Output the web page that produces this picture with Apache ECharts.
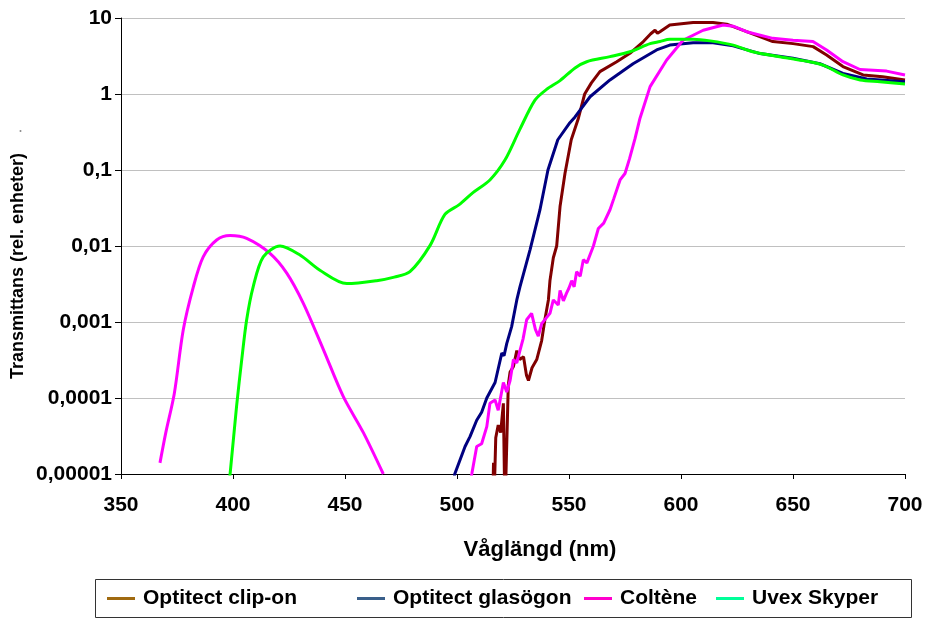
<!DOCTYPE html>
<html>
<head>
<meta charset="utf-8">
<script src="https://cdn.jsdelivr.net/npm/echarts@6/dist/echarts.min.js"></script>
<style>html,body{margin:0;padding:0;background:#fff}#c{width:925px;height:619px}</style>
</head>
<body>
<div id="c"></div>
<script>
// ---- Data ----
const seriesNames = ['Optitect clip-on', 'Optitect glasögon', 'Coltène', 'Uvex Skyper'];
const yTickLabels = ['0,00001', '0,0001', '0,001', '0,01', '0,1', '1', '10'];
const xTitle = 'Våglängd (nm)';
const yTitle = 'Transmittans (rel. enheter)';

const wlClipOn = [516.0, 516.3, 516.6, 517.3, 518.4, 519.5, 520.7, 521.4, 522.2, 522.9, 523.7, 525.2, 526.7, 528.0, 529.7, 531.0, 531.9, 533.5, 535.6, 537.8, 539.3, 540.8, 541.5, 543.0, 544.5, 546.0, 548.2, 551.0, 554.2, 557.0, 560.0, 563.8, 571.3, 577.2, 583.2, 586.5, 588.4, 589.5, 590.6, 595.0, 605.4, 614.3, 620.4, 629.3, 641.0, 650.0, 659.0, 665.0, 672.3, 681.3, 690.0, 700.0];
const tClipOn = [5e-6, 1.4e-5, 5e-6, 3e-5, 4.4e-5, 3.5e-5, 8.5e-5, 3e-6, 3e-6, 1.5e-4, 2.2e-4, 2.6e-4, 4.2e-4, 3.2e-4, 3.5e-4, 2.0e-4, 1.7e-4, 2.5e-4, 3.2e-4, 5.7e-4, 1.1e-3, 1.95e-3, 3.5e-3, 7e-3, 0.01, 0.033, 0.09, 0.25, 0.48, 1.0, 1.4, 1.97, 2.66, 3.43, 4.9, 6.2, 6.9, 6.3, 6.6, 8.1, 8.7, 8.7, 8.3, 6.6, 4.9, 4.6, 4.2, 3.26, 2.3, 1.78, 1.69, 1.53];

const wlGlas = [498.5, 499.0, 503.6, 505.8, 508.8, 511.0, 513.3, 517.0, 518.5, 520.0, 521.0, 522.2, 524.4, 526.7, 528.1, 532.6, 537.0, 540.6, 545.0, 550.4, 552.7, 559.4, 568.3, 578.6, 589.1, 595.0, 605.4, 614.3, 623.3, 635.3, 650.0, 662.0, 672.3, 682.9, 700.0];
const tGlas = [8e-6, 1e-5, 2.3e-5, 3.1e-5, 5.1e-5, 6.5e-5, 1e-4, 1.6e-4, 2.5e-4, 3.9e-4, 3.6e-4, 5.2e-4, 8.7e-4, 1.95e-3, 2.9e-3, 8.9e-3, 0.0296, 0.1, 0.25, 0.42, 0.5, 0.92, 1.53, 2.5, 3.8, 4.4, 4.73, 4.73, 4.3, 3.4, 2.95, 2.5, 1.87, 1.58, 1.45];

// Coltène, UV part (smooth) and visible part (noisy)
const wlColteneUV = [367.4, 370.0, 373.8, 377.8, 382.3, 386.7, 392.7, 398.7, 406.1, 416.5, 424.0, 431.4, 440.4, 449.2, 458.2, 467.1];
const tColteneUV = [1.4e-5, 3.5e-5, 1.15e-4, 7.9e-4, 2.9e-3, 7.2e-3, 0.012, 0.0137, 0.0126, 0.008, 0.0044, 0.00176, 4.3e-4, 1.05e-4, 3.5e-5, 1.0e-5];
const wlColteneVis = [505.5, 506.6, 508.8, 511.0, 513.3, 514.7, 517.0, 518.4, 520.7, 522.2, 523.7, 525.2, 526.7, 528.1, 529.5, 531.1, 533.3, 535.0, 536.3, 537.8, 539.5, 541.5, 543.0, 545.2, 546.0, 547.5, 548.9, 550.0, 551.2, 552.3, 553.4, 555.0, 556.4, 558.0, 560.9, 563.1, 565.5, 568.3, 570.0, 572.8, 575.0, 577.0, 579.5, 581.7, 586.2, 593.6, 600.9, 609.9, 618.8, 623.3, 629.3, 641.0, 650.0, 658.9, 665.0, 672.3, 679.9, 691.8, 700.0];
const tColteneVis = [7e-6, 1e-5, 2.3e-5, 2.5e-5, 4.2e-5, 8.5e-5, 9.4e-5, 6.9e-5, 1.6e-4, 1.2e-4, 1.7e-4, 3.2e-4, 2.9e-4, 4.2e-4, 6e-4, 1.07e-3, 1.3e-3, 8e-4, 6.5e-4, 9.5e-4, 1.1e-3, 1.3e-3, 1.95e-3, 1.67e-3, 2.6e-3, 1.9e-3, 2.4e-3, 2.8e-3, 3.5e-3, 2.9e-3, 4.6e-3, 4.0e-3, 6.6e-3, 6.0e-3, 0.01, 0.017, 0.02, 0.03, 0.042, 0.074, 0.09, 0.14, 0.26, 0.48, 1.25, 2.8, 5.1, 6.9, 8.1, 7.8, 6.6, 5.4, 5.1, 4.9, 3.8, 2.66, 2.1, 2.0, 1.78];

const wlUvex = [398.0, 398.7, 401.6, 403.9, 406.1, 409.0, 413.5, 421.0, 429.9, 438.8, 450.8, 464.1, 472.0, 479.0, 488.0, 494.6, 501.0, 507.0, 514.7, 521.4, 528.0, 534.8, 540.0, 546.0, 552.7, 557.9, 568.3, 577.2, 586.2, 590.6, 595.0, 605.4, 613.0, 623.3, 632.0, 644.0, 654.5, 663.4, 672.3, 680.0, 688.8, 700.0];
const tUvex = [7e-6, 1e-5, 7.8e-5, 3.2e-4, 1.07e-3, 2.9e-3, 7.2e-3, 0.01, 7.6e-3, 4.8e-3, 3.2e-3, 3.5e-3, 3.9e-3, 4.6e-3, 0.0102, 0.026, 0.035, 0.05, 0.074, 0.135, 0.34, 0.83, 1.15, 1.5, 2.2, 2.66, 3.1, 3.6, 4.6, 4.9, 5.25, 5.25, 5.0, 4.4, 3.6, 3.1, 2.75, 2.4, 1.78, 1.53, 1.45, 1.35];

// ---- Styling ----
const lineColors = ['#800000', '#000080', '#FF00FF', '#00FF00'];
const legendColors = ['#A06A10', '#3A5F8A', '#FF00CC', '#00FF99'];
const legendLefts = [102, 352, 579, 711];
const FONT = '"Liberation Sans", Arial, sans-serif';

function pairs(xs, ys) { return xs.map((x, i) => [x, ys[i]]); }

const chart = echarts.init(document.getElementById('c'), null, { renderer: 'canvas' });

const mkSeries = (name, data, color, smooth) => ({
  name, type: 'line', data, showSymbol: false, symbol: 'none', clip: true,
  smooth: smooth ? 0.3 : false,
  lineStyle: { color, width: 3 }, itemStyle: { color }, emphasis: { disabled: true }
});

const option = {
  animation: false,
  backgroundColor: '#ffffff',
  grid: { left: 121, right: 20, top: 18, bottom: 145, outerBoundsMode: 'none' },
  xAxis: {
    type: 'value', min: 350, max: 700, interval: 50,
    axisLine: { show: true, lineStyle: { color: '#000', width: 1 } },
    axisTick: { show: true, length: 5, inside: false, lineStyle: { color: '#000' } },
    axisLabel: { margin: 21, fontFamily: FONT, fontWeight: 'bold', fontSize: 21, color: '#000' },
    splitLine: { show: false }
  },
  yAxis: {
    type: 'log', logBase: 10, min: 0.00001, max: 10,
    axisLine: { show: true, lineStyle: { color: '#000', width: 1 } },
    axisTick: { show: true, length: 6, inside: false, lineStyle: { color: '#000' } },
    axisLabel: {
      margin: 9, fontFamily: FONT, fontWeight: 'bold', fontSize: 21, color: '#000',
      formatter: v => yTickLabels[Math.round(Math.log10(v)) + 5]
    },
    splitLine: { show: true, lineStyle: { color: '#C0C0C0', width: 1 } },
    minorTick: { show: false }
  },
  legend: seriesNames.map((n, i) => ({
    left: legendLefts[i], top: 583, orient: 'horizontal',
    icon: 'rect', itemWidth: 28, itemHeight: 3, selectedMode: false,
    data: [{ name: n, itemStyle: { color: legendColors[i] } }],
    textStyle: { fontFamily: FONT, fontWeight: 'bold', fontSize: 21, color: '#000', padding: [0, 0, 0, 3] }
  })),
  graphic: [
    { type: 'rect', left: 93, top: 577, shape: { width: 816, height: 38 },
      style: { fill: 'none', stroke: '#333', lineWidth: 1 }, silent: true },
    { type: 'text', x: 18, y: 266, rotation: Math.PI / 2,
      style: { text: yTitle, font: 'bold 18px ' + FONT, fill: '#000',
        textAlign: 'center', textVerticalAlign: 'middle' }, silent: true },
    { type: 'text', x: 540, y: 550,
      style: { text: xTitle, font: 'bold 22px ' + FONT, fill: '#000',
        textAlign: 'center', textVerticalAlign: 'middle' }, silent: true },
    { type: 'circle', shape: { cx: 20.5, cy: 131, r: 1 }, style: { fill: '#888' }, silent: true }
  ],
  series: [
    mkSeries(seriesNames[0], pairs(wlClipOn, tClipOn), lineColors[0], false),
    mkSeries(seriesNames[1], pairs(wlGlas, tGlas), lineColors[1], false),
    mkSeries(seriesNames[2], pairs(wlColteneUV, tColteneUV), lineColors[2], true),
    mkSeries(seriesNames[2], pairs(wlColteneVis, tColteneVis), lineColors[2], false),
    mkSeries(seriesNames[3], pairs(wlUvex, tUvex), lineColors[3], true)
  ]
};
chart.setOption(option);
</script>
</body>
</html>
